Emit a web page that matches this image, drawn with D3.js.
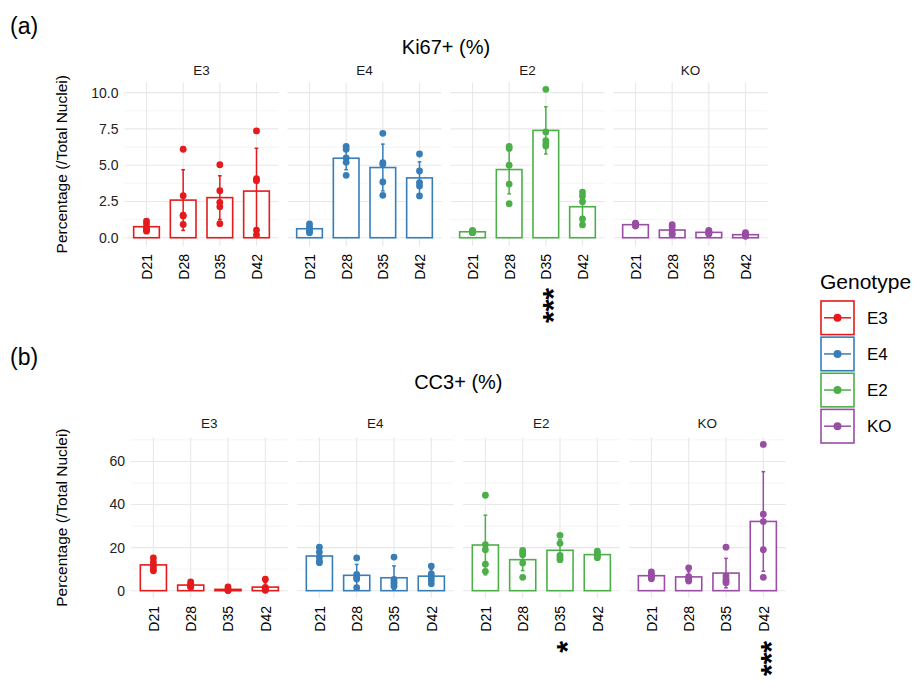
<!DOCTYPE html>
<html>
<head>
<meta charset="utf-8">
<script src="https://cdn.jsdelivr.net/npm/d3@7"></script>
<style>
  body { margin: 0; background: #fff; }
  svg { display: block; font-family: "Liberation Sans", Arial, sans-serif; }
</style>
</head>
<body>
<svg id="chart" width="917" height="682"></svg>
<script>
var genotypes = ["E3", "E4", "E2", "KO"];
var days = ["D21", "D28", "D35", "D42"];
var genotypeColors = ["#E41A1C", "#377EB8", "#4DAF4A", "#984EA3"];

// Ki67+ (%) per animal, one inner array per day (D21..D42)
var ki67E3 = [[1.15, 0.95, 0.7, 0.55, 0.45], [6.1, 2.9, 1.55, 1.5, 0.92], [5.03, 3.24, 2.44, 2.14, 0.97], [7.36, 4.07, 3.93, 0.53, 0.19]];
var ki67E4 = [[0.95, 0.75, 0.6, 0.45, 0.35], [6.3, 6.1, 5.5, 5.2, 4.3], [7.2, 5.17, 5.06, 3.84, 2.92], [5.77, 4.6, 3.8, 3.57, 2.88]];
var ki67E2 = [[0.5, 0.45, 0.4, 0.35, 0.35], [6.3, 6.15, 5.0, 3.7, 2.35], [10.23, 7.29, 6.69, 6.46, 6.32], [3.15, 2.88, 2.48, 1.29, 0.88]];
var ki67KO = [[1.0, 0.95, 0.9, 0.85, 0.8], [0.9, 0.75, 0.5, 0.3, 0.2], [0.5, 0.45, 0.35, 0.3, 0.25], [0.35, 0.25, 0.2, 0.15, 0.1]];

// CC3+ (%)
var cc3E3 = [[15.2, 13.3, 11.8, 10.3, 9.2], [4.1, 3.0, 2.4, 1.8, 1.7], [1.8, 0.6, 0.3, 0.2, 0.1], [5.3, 1.5, 0.9, 0.4, 0.2]];
var cc3E4 = [[20.2, 17.9, 15.6, 13.8, 13.0], [15.2, 7.5, 6.2, 5.4, 1.4], [15.6, 5.2, 4.0, 3.2, 2.0], [11.4, 7.8, 6.3, 5.0, 3.2]];
var cc3E2 = [[44.3, 21.4, 19.0, 12.3, 9.0], [18.7, 17.5, 16.7, 12.9, 6.2], [25.7, 22.0, 16.4, 15.3, 14.4], [18.3, 17.5, 16.6, 16.0, 15.3]];
var cc3KO = [[8.7, 7.5, 6.9, 6.2, 5.5], [10.6, 6.5, 5.5, 4.9, 4.5], [20.2, 6.9, 4.6, 3.7, 5.4], [67.9, 35.5, 32.1, 19.0, 6.2]];

var ki67Ticks = [0, 2.5, 5, 7.5, 10];
var cc3Ticks = [0, 20, 40, 60];

// significance marks under the day labels
var ki67Stars = [["E2", "D35", "***"]];
var cc3Stars = [["E2", "D35", "*"], ["KO", "D42", "***"]];

var svg = d3.select("#chart");

function drawPanel(opt) {
    var g = svg.append("g");

    g.append("text")
        .attr("x", 10).attr("y", opt.tagY)
        .style("font-size", "23px").attr("fill", "#000")
        .text(opt.tag);

    var facet = d3.scaleBand()
        .domain(genotypes)
        .range([opt.left, opt.left + 4 * opt.panelW + 3 * opt.gap])
        .paddingInner(opt.gap / (opt.panelW + opt.gap));

    var y = d3.scaleLinear().domain(opt.yDomain).range([opt.bottom, opt.top]);
    var step = opt.ticks[1] - opt.ticks[0];
    var minor = d3.range(opt.ticks[0] - step / 2, opt.yDomain[1], step)
        .filter(function (v) { return v > opt.yDomain[0]; });

    // title centred on the panels
    g.append("text")
        .attr("x", (facet.range()[0] + facet.range()[1]) / 2)
        .attr("y", opt.titleY)
        .attr("text-anchor", "middle")
        .style("font-size", "20px")
        .text(opt.title);

    // y axis title
    g.append("text")
        .attr("transform", "translate(62," + (opt.top + opt.bottom) / 2 + ")rotate(-90)")
        .attr("text-anchor", "middle")
        .attr("dy", "0.35em")
        .style("font-size", "15.5px")
        .text("Percentage (/Total Nuclei)");

    // y axis labels
    var yAxis = g.append("g")
        .attr("transform", "translate(" + opt.left + ",0)")
        .call(d3.axisLeft(y).tickValues(opt.ticks).tickSize(0).tickPadding(6).tickFormat(opt.fmt));
    yAxis.select(".domain").remove();
    yAxis.selectAll("text").style("font-size", "14px").attr("fill", "#222").style("font-family", "Liberation Sans, Arial, sans-serif");

    genotypes.forEach(function (gt, i) {
        var px = facet(gt);
        var pw = facet.bandwidth();
        var color = genotypeColors[i];
        var x = d3.scalePoint().domain(days).range([px, px + pw]).padding(0.6);
        var bw = x.step() * 0.7;
        var cap = x.step() * 0.05;
        var fg = g.append("g");

        // grid
        fg.selectAll(".minor").data(minor).enter().append("line")
            .attr("x1", px).attr("x2", px + pw)
            .attr("y1", function (d) { return y(d); }).attr("y2", function (d) { return y(d); })
            .attr("stroke", "#EFEFEF").attr("stroke-width", 0.7);
        fg.selectAll(".major").data(opt.ticks).enter().append("line")
            .attr("x1", px).attr("x2", px + pw)
            .attr("y1", function (d) { return y(d); }).attr("y2", function (d) { return y(d); })
            .attr("stroke", "#E8E8E8").attr("stroke-width", 1.1);
        fg.selectAll(".vgrid").data(days).enter().append("line")
            .attr("x1", function (d) { return x(d); }).attr("x2", function (d) { return x(d); })
            .attr("y1", opt.top).attr("y2", opt.bottom)
            .attr("stroke", "#E8E8E8").attr("stroke-width", 1.1);

        // strip label
        fg.append("text")
            .attr("x", px + pw / 2).attr("y", opt.stripY)
            .attr("text-anchor", "middle")
            .style("font-size", "13.5px").attr("fill", "#1A1A1A")
            .text(gt);

        var stats = days.map(function (d, j) {
            var v = opt.series[i][j];
            return { day: d, values: v, mean: d3.mean(v), sd: d3.deviation(v) };
        });

        // bars
        fg.selectAll(".bar").data(stats).enter().append("rect")
            .attr("x", function (d) { return x(d.day) - bw / 2; })
            .attr("width", bw)
            .attr("y", function (d) { return y(d.mean); })
            .attr("height", function (d) { return y(0) - y(d.mean); })
            .attr("fill", "#fff")
            .attr("stroke", color)
            .attr("stroke-width", 1.6);

        // points
        stats.forEach(function (s) {
            fg.selectAll(null).data(s.values).enter().append("circle")
                .attr("cx", x(s.day))
                .attr("cy", function (d) { return y(d); })
                .attr("r", 3.4)
                .attr("fill", color);
        });

        // error bars (mean +/- sd)
        var eb = fg.selectAll(".eb").data(stats).enter().append("g");
        eb.append("line")
            .attr("x1", function (d) { return x(d.day); }).attr("x2", function (d) { return x(d.day); })
            .attr("y1", function (d) { return y(d.mean - d.sd); })
            .attr("y2", function (d) { return y(d.mean + d.sd); })
            .attr("stroke", color).attr("stroke-width", 1.5);
        [-1, 1].forEach(function (sgn) {
            eb.append("line")
                .attr("x1", function (d) { return x(d.day) - cap; })
                .attr("x2", function (d) { return x(d.day) + cap; })
                .attr("y1", function (d) { return y(d.mean + sgn * d.sd); })
                .attr("y2", function (d) { return y(d.mean + sgn * d.sd); })
                .attr("stroke", color).attr("stroke-width", 1.5);
        });

        // x labels, rotated
        var xAxis = fg.append("g")
            .attr("transform", "translate(0," + opt.bottom + ")")
            .call(d3.axisBottom(x).tickSize(0));
        xAxis.select(".domain").remove();
        xAxis.selectAll("text")
            .attr("transform", "rotate(-90)")
            .attr("x", -8).attr("y", 0)
            .attr("dy", "0.35em")
            .attr("text-anchor", "end")
            .attr("fill", "#000")
            .style("font-size", "14px")
            .style("font-family", "Liberation Sans, Arial, sans-serif");

        // stars
        opt.stars.filter(function (s) { return s[0] === gt; }).forEach(function (s) {
            g.append("text")
                .attr("transform", "translate(" + x(s[1]) + "," + (opt.bottom + opt.starGap) + ")rotate(-90)")
                .attr("text-anchor", "end")
                .attr("dy", "0.58em")
                .style("font-size", "30px")
                .style("font-weight", "bold")
                .text(s[2]);
        });
    });
}

drawPanel({
    tag: "(a)", tagY: 34, title: "Ki67+ (%)", titleY: 54, stripY: 75,
    left: 124.5, panelW: 154, gap: 9, top: 82.5, bottom: 246,
    yDomain: [-0.57, 10.7], ticks: ki67Ticks, fmt: d3.format(".1f"),
    series: [ki67E3, ki67E4, ki67E2, ki67KO], stars: ki67Stars, starGap: 42
});

drawPanel({
    tag: "(b)", tagY: 365, title: "CC3+ (%)", titleY: 389, stripY: 428,
    left: 131, panelW: 156.7, gap: 9.3, top: 437.3, bottom: 598,
    yDomain: [-3.4, 71.2], ticks: cc3Ticks, fmt: d3.format("d"),
    series: [cc3E3, cc3E4, cc3E2, cc3KO], stars: cc3Stars, starGap: 43
});

// legend
var legend = svg.append("g").attr("transform", "translate(821,0)");
legend.append("text")
    .attr("x", -1).attr("y", 289)
    .style("font-size", "21px")
    .text("Genotype");
var ly = d3.scaleBand().domain(genotypes).range([301, 301 + 4 * 35.5]).paddingInner(2.5 / 35.5);
var keys = legend.selectAll(".key").data(genotypes).enter().append("g")
    .attr("transform", function (d) { return "translate(0," + ly(d) + ")"; });
keys.append("rect")
    .attr("width", 33).attr("height", ly.bandwidth())
    .attr("fill", "#fff")
    .attr("stroke", function (d, i) { return genotypeColors[i]; })
    .attr("stroke-width", 1.6);
keys.append("line")
    .attr("x1", 3).attr("x2", 30)
    .attr("y1", ly.bandwidth() / 2).attr("y2", ly.bandwidth() / 2)
    .attr("stroke", function (d, i) { return genotypeColors[i]; })
    .attr("stroke-width", 1.5);
keys.append("circle")
    .attr("cx", 16.5).attr("cy", ly.bandwidth() / 2).attr("r", 4)
    .attr("fill", function (d, i) { return genotypeColors[i]; });
keys.append("text")
    .attr("x", 46).attr("y", ly.bandwidth() / 2)
    .attr("dy", "0.35em")
    .style("font-size", "17px")
    .text(function (d) { return d; });
</script>
</body>
</html>
